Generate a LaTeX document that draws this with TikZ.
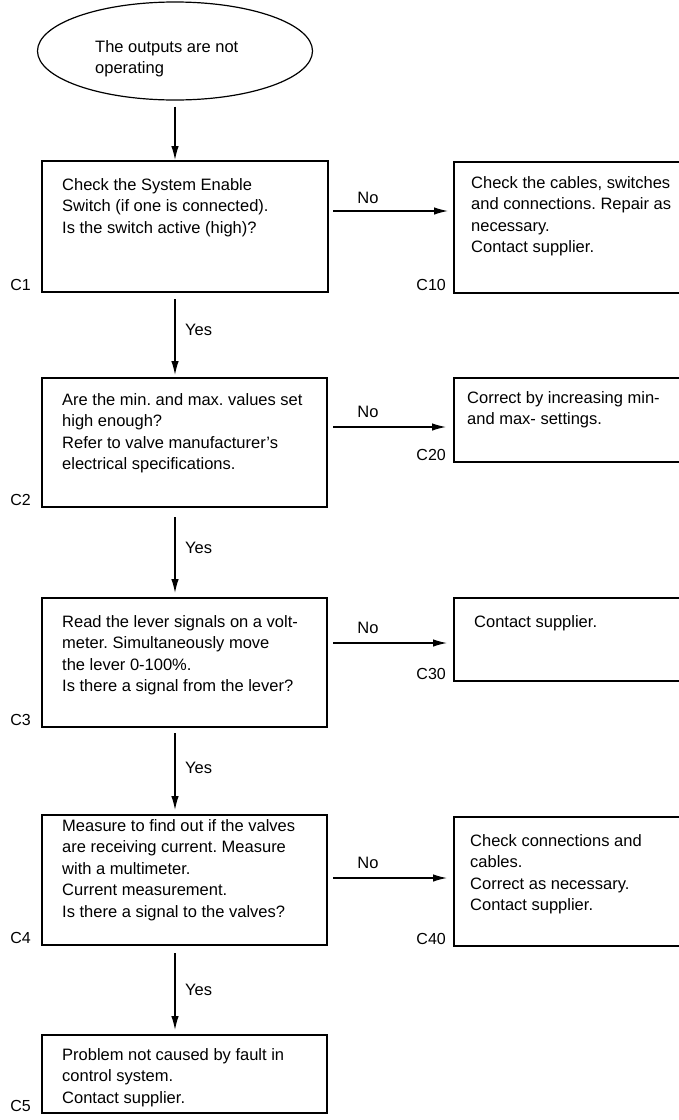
\documentclass[tikz,border=0pt]{standalone}
\usepackage{fontspec}
\setmainfont{Liberation Sans}
\usetikzlibrary{arrows.meta,shapes.geometric}
\frenchspacing
\newcommand\boxtext[1]{\parbox[t]{250pt}{\raggedright\frenchspacing\fontsize{16.5}{21.5}\selectfont #1}}
\begin{document}
\begin{tikzpicture}[x=1pt,y=-1pt,
  box/.style={draw, line width=1.8pt, rectangle, anchor=north west, inner sep=0pt, outer sep=0pt},
  txt/.style={anchor=base west, inner sep=0pt},
  clbl/.style={anchor=base east, inner sep=0pt, font=\fontsize{16}{19}\selectfont},
  ylbl/.style={anchor=base west, inner sep=0pt, font=\fontsize{16.5}{19}\selectfont},
  nlbl/.style={anchor=base, inner sep=0pt, font=\fontsize{16.5}{19}\selectfont},
  arr/.style={line width=1.3pt, -{Latex[length=14pt,width=7.5pt]}}]
\useasboundingbox (0,0) rectangle (679,1120);
\clip (0,0) rectangle (679,1120);
\fill[white] (0,0) rectangle (679,1120);

% start ellipse
\node[ellipse, draw, line width=1.2pt, minimum width=275pt, minimum height=98pt, inner sep=0pt] (E) at (175,51) {};
\node[txt] (Et) at (95,52) {\boxtext{The outputs are not\\operating}};

% left column boxes
\node[box, minimum width=286pt, minimum height=131pt] (C1) at (42,161) {};
\node[txt] (C1t) at (62,190) {\boxtext{Check the System Enable\\Switch (if one is connected).\\Is the switch active (high)?}};
\node[clbl] (C1l) at (31,290) {C1};

\node[box, minimum width=285pt, minimum height=129pt] (C2) at (42,378) {};
\node[txt] (C2t) at (62,405) {\boxtext{Are the min. and max. values set\\high enough?\\Refer to valve manufacturer's\\electrical specifications.}};
\node[clbl] (C2l) at (31,505) {C2};

\node[box, minimum width=285pt, minimum height=129pt] (C3) at (42,598) {};
\node[txt] (C3t) at (62,627) {\boxtext{Read the lever signals on a volt-\\meter. Simultaneously move\\the lever 0-100\%.\\Is there a signal from the lever?}};
\node[clbl] (C3l) at (31,725) {C3};

\node[box, minimum width=285pt, minimum height=130pt] (C4) at (42,815) {};
\node[txt] (C4t) at (62,831) {\boxtext{Measure to find out if the valves\\are receiving current. Measure\\with a multimeter.\\Current measurement.\\Is there a signal to the valves?}};
\node[clbl] (C4l) at (31,943) {C4};

\node[box, minimum width=285pt, minimum height=78pt] (C5) at (42,1035) {};
\node[txt] (C5t) at (62,1060) {\boxtext{Problem not caused by fault in\\control system.\\Contact supplier.}};
\node[clbl] (C5l) at (31,1111) {C5};

% right column boxes
\node[box, minimum width=250pt, minimum height=131pt] (C10) at (454,162) {};
\node[txt] (C10t) at (471,188) {\boxtext{Check the cables, switches\\and connections. Repair as\\necessary.\\Contact supplier.}};
\node[clbl] (C10l) at (446,290) {C10};

\node[box, minimum width=250pt, minimum height=84pt] (C20) at (454,378) {};
\node[txt] (C20t) at (467,403) {\boxtext{Correct by increasing min-\\and max- settings.}};
\node[clbl] (C20l) at (446,460) {C20};

\node[box, minimum width=250pt, minimum height=83pt] (C30) at (454,598) {};
\node[txt] (C30t) at (474,627) {\boxtext{Contact supplier.}};
\node[clbl] (C30l) at (446,679) {C30};

\node[box, minimum width=250pt, minimum height=129pt] (C40) at (454,817) {};
\node[txt] (C40t) at (470,846) {\boxtext{Check connections and\\cables.\\Correct as necessary.\\Contact supplier.}};
\node[clbl] (C40l) at (446,944) {C40};

% connector guide coordinates
\coordinate (ax) at (175,0);
\coordinate (h1) at (0,211);
\coordinate (h2) at (0,427);
\coordinate (h3) at (0,643);
\coordinate (h4) at (0,878);

% vertical arrows
\draw[arr, shorten <=6pt, shorten >=1pt] (E.south) -- (E.south |- C1.north);
\draw[arr, shorten <=7pt, shorten >=3pt] (C1.south -| ax) -- (C2.north -| ax);
\draw[arr, shorten <=10pt, shorten >=5pt] (C2.south -| ax) -- (C3.north -| ax);
\draw[arr, shorten <=6pt, shorten >=5pt] (C3.south -| ax) -- (C4.north -| ax);
\draw[arr, shorten <=8pt, shorten >=5pt] (C4.south -| ax) -- (C5.north -| ax);

\node[ylbl] (y1) at (185,335) {Yes};
\node[ylbl] (y2) at (185,553) {Yes};
\node[ylbl] (y3) at (185,773) {Yes};
\node[ylbl] (y4) at (185,995) {Yes};

% horizontal arrows
\draw[arr, shorten <=5pt, shorten >=6pt] (C1.east |- h1) -- (C10.west |- h1);
\draw[arr, shorten <=6pt, shorten >=8pt] (C2.east |- h2) -- (C20.west |- h2);
\draw[arr, shorten <=6pt, shorten >=7pt] (C3.east |- h3) -- (C30.west |- h3);
\draw[arr, shorten <=6pt, shorten >=7pt] (C4.east |- h4) -- (C40.west |- h4);

\node[nlbl] (n1) at (368,203) {No};
\node[nlbl] (n2) at (368,417) {No};
\node[nlbl] (n3) at (368,633) {No};
\node[nlbl] (n4) at (368,868) {No};
\end{tikzpicture}
\end{document}
